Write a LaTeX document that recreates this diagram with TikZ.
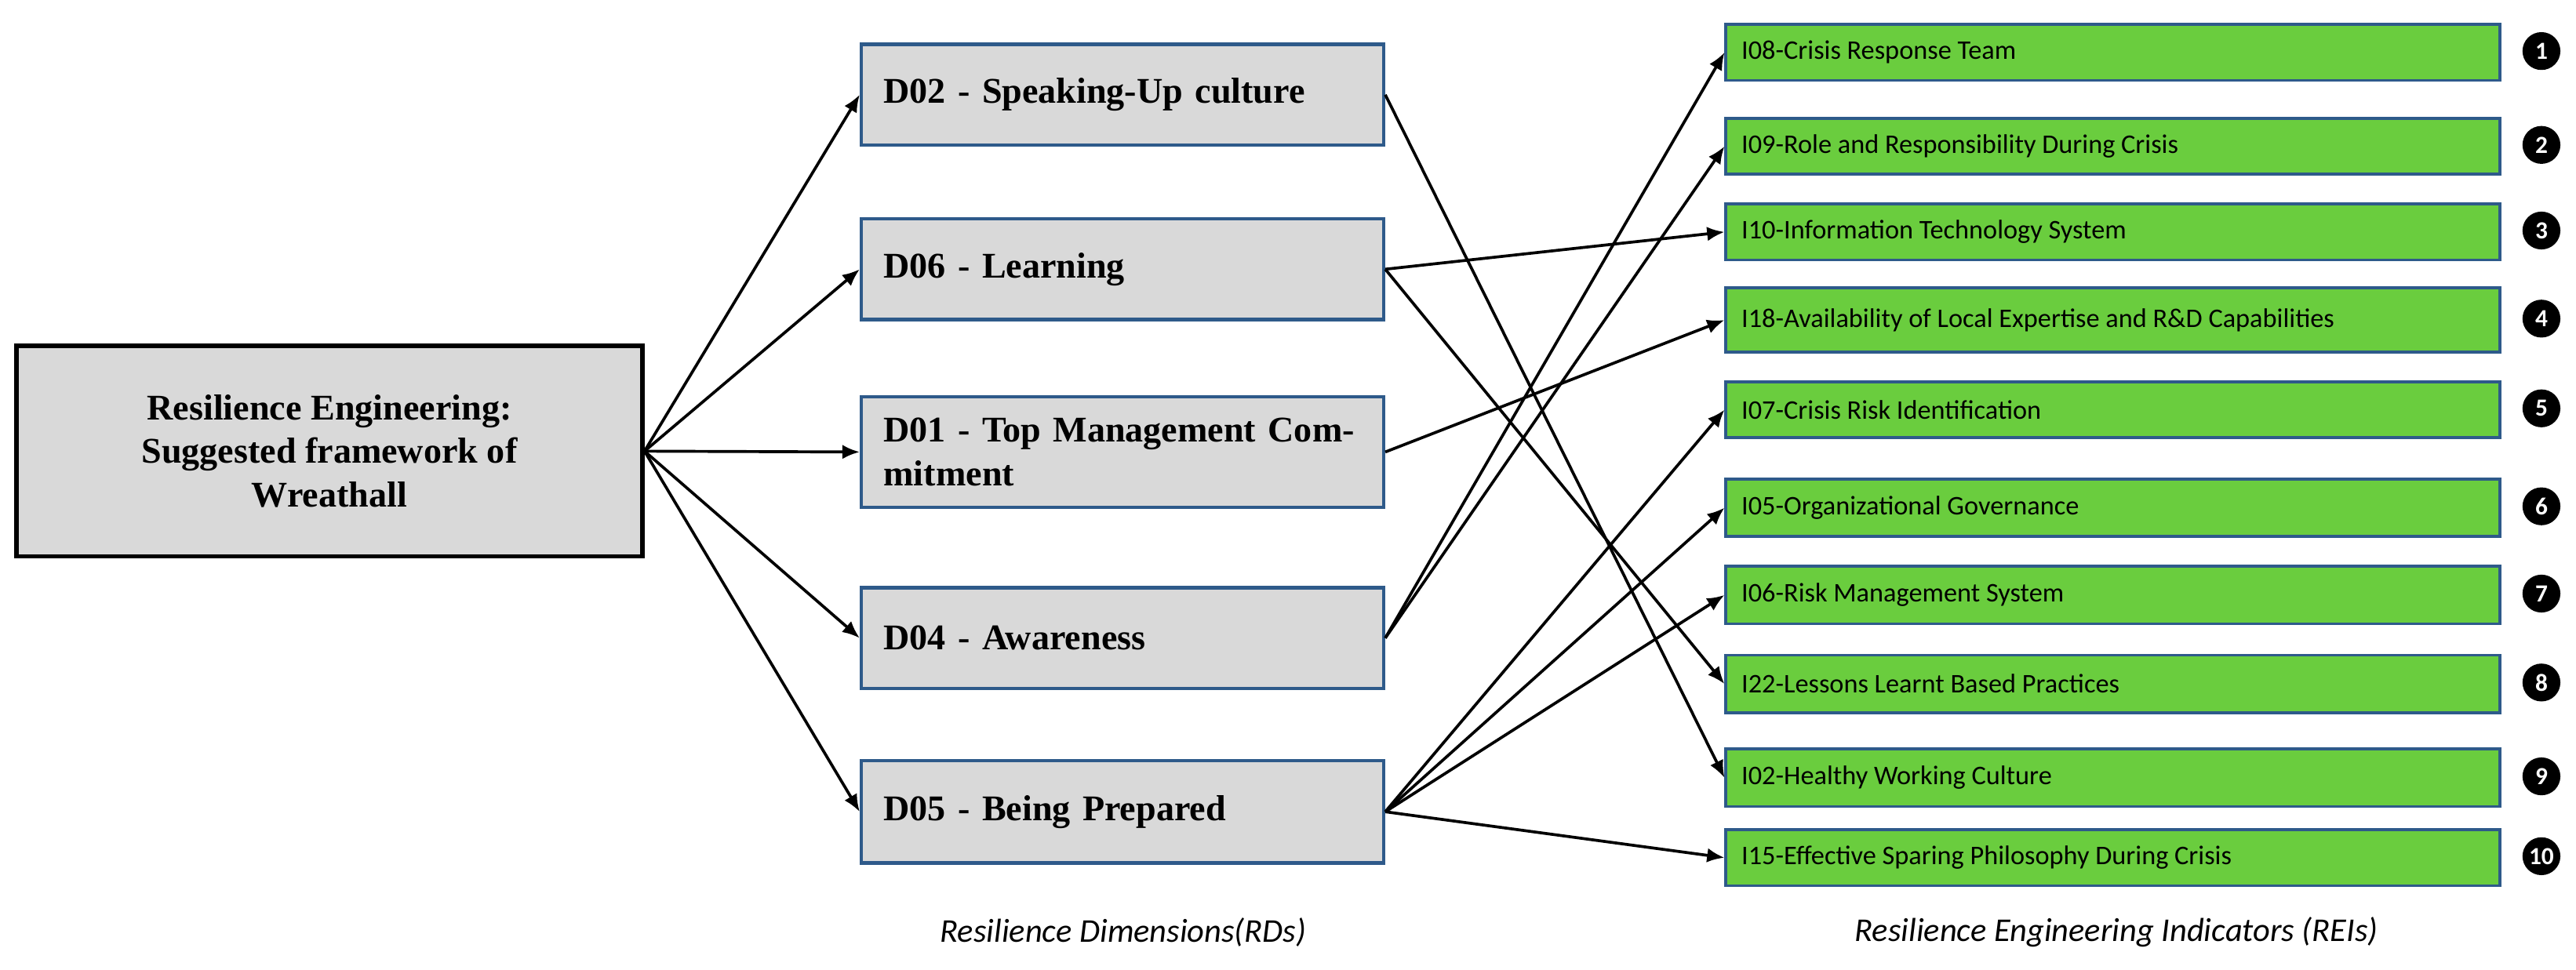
\documentclass[tikz,border=0pt]{standalone}
\usepackage{fontspec}
\setmainfont{Liberation Serif}
\newfontfamily\carl{Carlito}
\usetikzlibrary{arrows.meta}
\definecolor{gbox}{HTML}{D9D9D9}
\definecolor{grn}{HTML}{6ACD3E}
\definecolor{bdr}{HTML}{2E5A8A}
\begin{document}
\begin{tikzpicture}[x=0.02cm,y=-0.02cm,
 ind/.style={draw=bdr,line width=1pt,fill=grn,inner sep=0pt,anchor=north west},
 num/.style={circle,fill=black,text=white,inner sep=0pt,minimum size=0.46cm,font=\carl\bfseries\fontsize{8.5}{9}\selectfont},
 arr/.style={-{Latex[length=6pt,width=5pt]},line width=1pt}]
\useasboundingbox (0,0) rectangle (1564,589);
\node[draw=black,line width=1.5pt,fill=gbox,minimum width=380*0.02cm,minimum height=128*0.02cm,align=center,font=\fontsize{12.5}{15}\selectfont\bfseries] (m) at (200,274) {Resilience Engineering:\\Suggested framework of\\Wreathall};
\foreach \n/\y/\h/\t in {d02/57.5/61/{D02 - Speaking-Up culture},d06/163.5/61/{D06 - Learning},d01/274.5/67/{D01 - Top Management Commitment},d04/387.5/61/{D04 - Awareness},d05/493/62/{D05 - Being Prepared}}{
 \node[draw=bdr,line width=1.2pt,fill=gbox,minimum width=317*0.02cm,minimum height=\h*0.02cm] (\n) at (681.5,\y) {};
 \node[text width=290*0.02cm,align=left,font=\fontsize{12.5}{15}\selectfont\bfseries,inner sep=0pt] at (681.5,\y) {\t};
}
\foreach \n/\y/\h/\t/\k in {i08/14/34/{I08-Crisis Response Team}/1,i09/71/34/{I09-Role and Responsibility During Crisis}/2,i10/123/34/{I10-Information Technology System}/3,i18/174/39/{I18-Availability of Local Expertise and R\&D Capabilities}/4,i07/231/34/{I07-Crisis Risk Identification}/5,i05/290/35/{I05-Organizational Governance}/6,i06/343/35/{I06-Risk Management System}/7,i22/397/35/{I22-Lessons Learnt Based Practices}/8,i02/454/35/{I02-Healthy Working Culture}/9,i15/503/34/{I15-Effective Sparing Philosophy During Crisis}/10}{
 \node[ind,minimum width=470*0.02cm,minimum height=\h*0.02cm] (\n) at (1047,\y) {};
 \node[anchor=west,inner sep=0pt,font=\carl\fontsize{9.3}{10}\selectfont] at ([xshift=0.2cm]\n.west) {\t};
 \node[num] (c\n) at (1543,\y+\h/2) {\k};
}
\foreach \d in {d02,d06,d01,d04,d05} \draw[arr] (m.east) -- (\d.west);
\draw[arr] (d02.east) -- (i02.west);
\draw[arr] (d06.east) -- (i10.west);
\draw[arr] (d06.east) -- (i22.west);
\draw[arr] (d01.east) -- (i18.west);
\draw[arr] (d04.east) -- (i08.west);
\draw[arr] (d04.east) -- (i09.west);
\foreach \i in {i07,i05,i06,i15} \draw[arr] (d05.east) -- (\i.west);
\node[font=\carl\itshape\fontsize{11.5}{12}\selectfont] (l1) at (682,566) {Resilience Dimensions(RDs)};
\node[font=\carl\itshape\fontsize{11.5}{12}\selectfont] (l2) at (1285,566) {Resilience Engineering Indicators (REIs)};
\end{tikzpicture}
\end{document}
